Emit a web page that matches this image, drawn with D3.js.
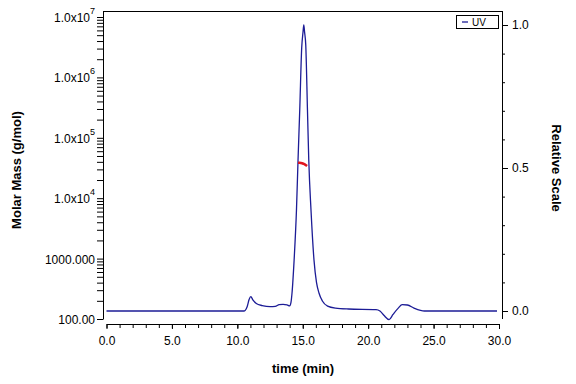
<!DOCTYPE html>
<html>
<head>
<meta charset="utf-8">
<script src="https://cdn.jsdelivr.net/npm/d3@7"></script>
<style>
  body { margin: 0; background: #fff; }
  text { font-family: "Liberation Sans", Arial, sans-serif; }
</style>
</head>
<body>
<div id="chart"></div>
<script>
// UV trace (relative scale)
const uvTime = [0, 10.5, 10.75, 10.9, 11.03, 11.2, 11.45, 11.9, 12.5, 12.9, 13.2, 13.5, 13.8, 14.0, 14.1,
  14.18, 14.34, 14.52, 14.64, 14.77, 14.92, 15.02, 15.08, 15.14, 15.23, 15.36, 15.46, 15.63, 15.86, 16.05,
  16.24, 16.5, 16.9, 17.5, 18.5, 20.6, 20.9, 21.2, 21.6, 21.9, 22.3, 22.6, 23.0, 23.5, 24.0, 24.3, 29.85];
const uvValue = [0, 0, 0.015, 0.04, 0.05, 0.038, 0.026, 0.019, 0.015, 0.016, 0.022, 0.023, 0.021, 0.018, 0.03,
  0.063, 0.178, 0.353, 0.528, 0.703, 0.92, 0.975, 1.0, 0.975, 0.93, 0.703, 0.528, 0.353, 0.178, 0.1,
  0.063, 0.035, 0.017, 0.01, 0.007, 0.005, 0.0, -0.015, -0.03, -0.012, 0.01, 0.022, 0.021, 0.01, 0.002, 0, 0];

// molar mass across the main peak (g/mol)
const mmTime = [14.64, 14.75, 14.85, 14.95, 15.05, 15.15, 15.25, 15.33];
const mmMass = [38700, 38600, 38300, 37900, 37200, 36300, 35200, 34100];

const xTicks = [0, 5, 10, 15, 20, 25, 30];
const leftTicks = [100, 1000, 1e4, 1e5, 1e6, 1e7];
const rightTicks = [0, 0.5, 1.0];

const width = 576, height = 384;

const svg = d3.select("#chart").append("svg")
  .attr("width", width)
  .attr("height", height);

const xScale = d3.scaleLinear().domain([0, 30]).range([106.5, 499]);
const yLeft = d3.scaleLog().domain([100, 1e7]).range([319, 17]);
const yRight = d3.scaleLinear().domain([0, 1]).range([311, 25]);

const frameTop = 11, leftX = 103, rightX = 502;

// frame lines (top, left, right)
svg.append("line").attr("x1", leftX).attr("x2", rightX).attr("y1", frameTop + 0.5).attr("y2", frameTop + 0.5)
  .attr("stroke", "#000");
svg.append("line").attr("x1", leftX + 0.5).attr("x2", leftX + 0.5).attr("y1", frameTop).attr("y2", yLeft(100) + 0.5)
  .attr("stroke", "#000");
svg.append("line").attr("x1", rightX + 0.5).attr("x2", rightX + 0.5).attr("y1", frameTop).attr("y2", 319)
  .attr("stroke", "#000");

// x axis (detached, below)
const xAxisY = 324;
svg.append("g")
  .attr("transform", "translate(0," + xAxisY + ")")
  .call(d3.axisBottom(xScale).tickValues(d3.range(0, 31, 1)).tickSize(4).tickFormat(""))
  .call(g => g.select(".domain").remove());
const xAxis = svg.append("g")
  .attr("transform", "translate(0," + xAxisY + ")")
  .call(d3.axisBottom(xScale).tickValues(xTicks).tickSizeInner(5).tickSizeOuter(0).tickPadding(7)
    .tickFormat(d3.format(".1f")));
xAxis.selectAll("text").attr("font-size", 12).attr("fill", "#000");

// left log axis
let minorLeft = [];
for (let e = 2; e < 7; e++) for (let m = 2; m <= 9; m++) minorLeft.push(m * Math.pow(10, e));
svg.append("g")
  .attr("transform", "translate(" + leftX + ",0)")
  .call(d3.axisLeft(yLeft).tickValues(minorLeft).tickSize(6).tickFormat(""))
  .call(g => g.select(".domain").remove());
const leftAxis = svg.append("g")
  .attr("transform", "translate(" + leftX + ",0)")
  .call(d3.axisLeft(yLeft).tickValues(leftTicks).tickSize(6).tickFormat(""))
  .call(g => g.select(".domain").remove());

leftTicks.forEach(function(v) {
  const t = svg.append("text")
    .attr("x", 95)
    .attr("y", yLeft(v) + 5)
    .attr("text-anchor", "end")
    .attr("font-size", 12);
  if (v === 100) t.text("100.00");
  else if (v === 1000) t.text("1000.000");
  else {
    t.append("tspan").text("1.0x10");
    t.append("tspan").attr("dy", -8).attr("font-size", 9).text(Math.round(Math.log10(v)));
  }
});

// right axis
svg.append("g")
  .attr("transform", "translate(" + rightX + ",0)")
  .call(d3.axisRight(yRight).tickValues(d3.range(0, 1.01, 0.1)).tickSize(3).tickFormat(""))
  .call(g => g.select(".domain").remove());
const rightAxis = svg.append("g")
  .attr("transform", "translate(" + rightX + ",0)")
  .call(d3.axisRight(yRight).tickValues(rightTicks).tickSize(6).tickPadding(4).tickFormat(d3.format(".1f")))
  .call(g => g.select(".domain").remove());
rightAxis.selectAll("text").attr("font-size", 12).attr("fill", "#000");

// axis titles
svg.append("text")
  .attr("transform", "translate(21,170) rotate(-90)")
  .attr("text-anchor", "middle")
  .attr("font-size", 13).attr("font-weight", "bold")
  .text("Molar Mass (g/mol)");
svg.append("text")
  .attr("x", 303).attr("y", 373)
  .attr("text-anchor", "middle")
  .attr("font-size", 13).attr("font-weight", "bold")
  .text("time (min)");
svg.append("text")
  .attr("transform", "translate(552,168) rotate(90)")
  .attr("text-anchor", "middle")
  .attr("font-size", 13).attr("font-weight", "bold")
  .text("Relative Scale");

// UV line
const uvData = uvTime.map((t, i) => ({t: t, v: uvValue[i]}));
svg.append("path")
  .datum(uvData)
  .attr("fill", "none")
  .attr("stroke", "#1c1c96")
  .attr("stroke-width", 1.3)
  .attr("d", d3.line()
    .curve(d3.curveMonotoneX)
    .x(function(d) { return xScale(d.t); })
    .y(function(d) { return yRight(d.v); }));

// molar mass points
const mmData = mmTime.map((t, i) => ({t: t, m: mmMass[i]}));
svg.append("path")
  .datum(mmData)
  .attr("fill", "none")
  .attr("stroke", "#e0141e")
  .attr("stroke-width", 2.5)
  .attr("d", d3.line()
    .x(function(d) { return xScale(d.t); })
    .y(function(d) { return yLeft(d.m); }));

// legend
const legend = svg.append("g").attr("transform", "translate(456,15)");
legend.append("rect").attr("x", 0.5).attr("y", 0.5).attr("width", 42).attr("height", 13)
  .attr("fill", "#fff").attr("stroke", "#000");
legend.append("line").attr("x1", 6).attr("x2", 12).attr("y1", 7).attr("y2", 7)
  .attr("stroke", "#1c1c96").attr("stroke-width", 1.3);
legend.append("text").attr("x", 16).attr("y", 11).attr("font-size", 10).text("UV");
</script>
</body>
</html>
